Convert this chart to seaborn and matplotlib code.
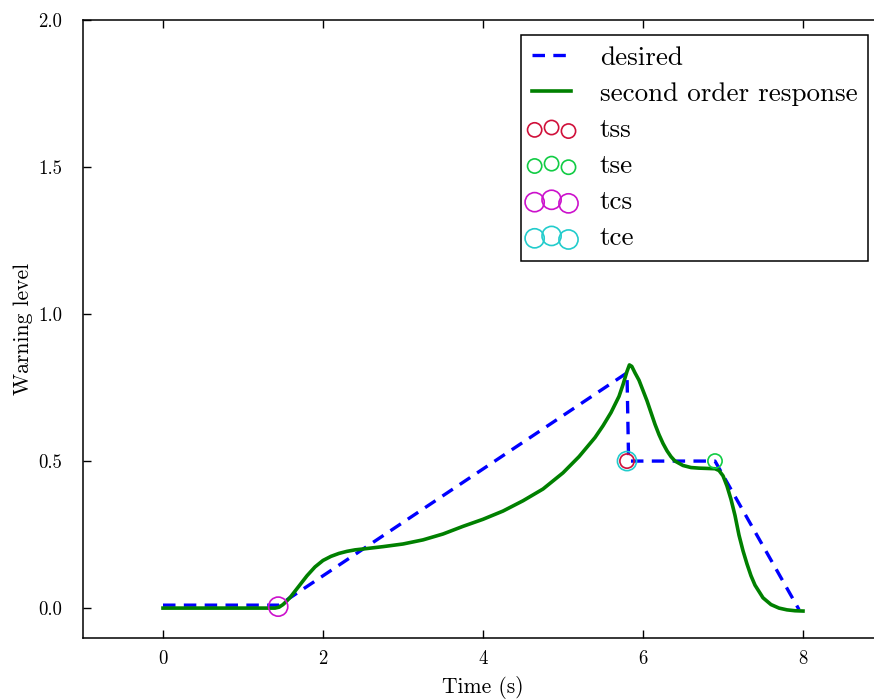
import matplotlib
matplotlib.use("Agg")
import matplotlib.pyplot as plt
import seaborn as sns
from matplotlib.collections import PathCollection
from matplotlib.legend_handler import HandlerPathCollection

# ---- data ----
desired_t = [0.0, 1.45, 5.8, 5.82, 6.9, 7.95]
desired_y = [0.01, 0.01, 0.8, 0.5, 0.5, -0.005]

resp_t = [0.0, 1.3, 1.4, 1.45, 1.5, 1.55, 1.6, 1.7, 1.8, 1.9, 2.0, 2.1, 2.2,
          2.3, 2.4, 2.5, 2.75, 3.0, 3.25, 3.5, 3.75, 4.0, 4.25, 4.5, 4.75,
          5.0, 5.2, 5.4, 5.5, 5.6, 5.7, 5.75, 5.8, 5.83, 5.86, 5.9, 5.95,
          6.0, 6.05, 6.1, 6.15, 6.2, 6.25, 6.3, 6.35, 6.4, 6.5, 6.6, 6.7,
          6.8, 6.9, 6.95, 7.0, 7.05, 7.1, 7.15, 7.2, 7.25, 7.3, 7.35, 7.4,
          7.5, 7.6, 7.7, 7.8, 7.9, 8.0]
resp_y = [0.0, 0.0, 0.0, 0.003, 0.012, 0.025, 0.04, 0.075, 0.11, 0.14, 0.162,
          0.176, 0.186, 0.193, 0.198, 0.201, 0.209, 0.218, 0.232, 0.252, 0.278,
          0.302, 0.33, 0.365, 0.405, 0.46, 0.515, 0.58, 0.62, 0.665, 0.72,
          0.76, 0.805, 0.827, 0.822, 0.80, 0.775, 0.74, 0.705, 0.665, 0.625,
          0.59, 0.56, 0.535, 0.515, 0.50, 0.485, 0.478, 0.476, 0.475, 0.474,
          0.468, 0.45, 0.415, 0.37, 0.315, 0.248, 0.195, 0.15, 0.11, 0.078,
          0.035, 0.012, 0.0, -0.006, -0.009, -0.01]

tss_t, tss_y = [5.8], [0.5]
tse_t, tse_y = [6.9], [0.5]
tcs_t, tcs_y = [1.44], [0.005]
tce_t, tce_y = [5.8], [0.5]

xticks = [0, 2, 4, 6, 8]
yticks = [0.0, 0.5, 1.0, 1.5, 2.0]

# ---- style ----
plt.rcParams.update({
    "font.family": ["cmr10", "DejaVu Serif"],
    "mathtext.fontset": "cm",
    "axes.formatter.use_mathtext": True,
    "axes.unicode_minus": False,
    "lines.scale_dashes": False,
})

fig = plt.figure(figsize=(8.74, 7.0), dpi=100)
ax = fig.add_axes([83 / 874, (700 - 637.5) / 700, 800 / 874, (637.5 - 20) / 700])

sns.lineplot(x=desired_t, y=desired_y, ax=ax, color="#0000ff", lw=2.4,
             linestyle=(0, (9, 6)), sort=False, estimator=None, label="desired")
sns.lineplot(x=resp_t, y=resp_y, ax=ax, color="#008000", lw=2.6,
             sort=False, estimator=None, label="second order response")

ax.scatter(tce_t, tce_y, s=190, facecolors="none", edgecolors="#22cccc", linewidths=1.2, label="_tce", zorder=3)
ax.scatter(tss_t, tss_y, s=105, facecolors="none", edgecolors="#d0103a", linewidths=1.2, label="tss", zorder=4)
ax.scatter(tse_t, tse_y, s=105, facecolors="none", edgecolors="#11cc44", linewidths=1.2, label="tse", zorder=4)
ax.scatter(tcs_t, tcs_y, s=190, facecolors="none", edgecolors="#cc11cc", linewidths=1.2, label="tcs", zorder=4)
ax.scatter([], [], s=190, facecolors="none", edgecolors="#22cccc", linewidths=1.2, label="tce")

ax.set_xlim(-1, 9)
ax.set_ylim(-0.1, 2.0)
ax.set_xticks(xticks)
ax.set_yticks(yticks)
ax.set_xticklabels([str(v) for v in xticks])
ax.set_yticklabels([f"{v:.1f}" for v in yticks])
ax.tick_params(direction="in", top=True, right=True, length=6, width=1, labelsize=13.5)
ax.tick_params(axis="x", pad=9)
ax.tick_params(axis="y", pad=15)
for sp in ax.spines.values():
    sp.set_linewidth(1.1)
    sp.set_color("black")

ax.set_xlabel("Time (s)", fontsize=15.5, labelpad=6)
ax.set_ylabel("Warning level", fontsize=15.5, labelpad=4)

handles, labels = ax.get_legend_handles_labels()
leg = ax.legend(handles, labels, loc="upper right", fontsize=19.5, frameon=True,
                fancybox=False, framealpha=1, edgecolor="black", scatterpoints=3,
                scatteryoffsets=[0.375, 0.5, 0.3125], handlelength=1.45,
                handletextpad=1.05, borderpad=0.4, labelspacing=0.45,
                borderaxespad=0.55,
                handler_map={PathCollection: HandlerPathCollection(marker_pad=0.1)})
leg.get_frame().set_linewidth(1.1)

fig.savefig("out.png", dpi=100)
